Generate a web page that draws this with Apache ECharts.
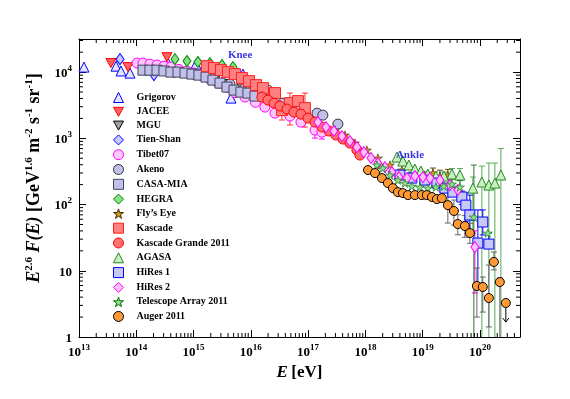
<!DOCTYPE html>
<html><head><meta charset="utf-8">
<script src="https://cdn.jsdelivr.net/npm/echarts@6/dist/echarts.min.js"></script>
<style>html,body{margin:0;padding:0;background:#fff}#c{width:570px;height:399px}</style>
</head><body><div id="c"></div>
<script>
// ---------- data: [E (eV), E^2.6 F(E)] ----------
const grigorov = [[1.22e13,11900],[4.43e13,12300],[5.41e13,10400],[7.77e13,9660],[3.57e14,13700],[1.1e15,13200],[4.5e15,4050],[7.28e15,9330]];
const jacee = [[3.61e13,13700],[7.16e13,11900],[3.43e14,16800]];
const mgu = [[1.65e15,8410],[2.36e15,7570],[3.98e15,6590],[7.0e15,5730],[1.23e16,4660],[2.15e16,3780]];
const tienShan = [[5.2e13,15700],[2.04e14,9010],[1.02e15,9330],[3.13e15,6820]];
const tibet07 = [[1.03e14,13700],[1.31e14,13700],[1.73e14,13200],[2.3e14,12800],[3.04e14,12300],[4.0e14,11900],[5.56e14,11000],[7.67e14,10400],[1.02e15,9660],[1.42e15,8800],[1.93e15,7800],[2.7e15,6800],[3.83e15,5900],[5.28e15,4900],[7.9e15,4200],[1.2e16,3500],[1.76e16,2960],[2.64e16,2400],[4.81e16,2170],[7.49e16,1760],[1.32e17,1330],[1.74e17,1240]];
const akeno = [[1.02e15,9330],[2.0e15,8100],[4.32e15,6590],[7.89e15,5730],[1.44e16,4500],[1.99e16,5350],[3.63e16,3400],[7.19e16,2670],[1.43e17,2400],[1.81e17,2240],[3.31e17,1640]];
const casaMia = [[1.31e14,10700],[1.73e14,10700],[2.3e14,10700],[3.04e14,10400],[4.03e14,10000],[5.35e14,10000],[7.08e14,9660],[9.38e14,9330],[1.24e15,9010],[1.65e15,8410],[2.18e15,7570],[2.89e15,6820],[3.83e15,5940],[5.08e15,5350],[6.71e15,4990],[8.9e15,4820],[1.18e16,4340]];
const hegra = [[4.73e14,15700],[7.67e14,14700],[1.19e15,14200],[1.93e15,13700],[3.13e15,12800],[4.87e15,11900]];
const flysEye = [[2.94e17,1330],[4.39e17,1120],[6.56e17,848],[1.06e18,665],[1.65e18,504],[2.68e18,395],[4.34e18,332],[6.74e18,299],[1.09e19,279],[1.51e19,299],[2e19,269],[2.75e19,279]];
const kascade = [[1.71e15,12300],[2.27e15,11500],[3.01e15,10700],[3.98e15,10000],[5.28e15,9330],[7.0e15,8120],[9.27e15,7310],[1.23e16,6360],[1.63e16,5730],[2.64e16,4820],[3.49e16,2670],[4.81e16,3400],[6.64e16,3650],[8.79e16,2860]];
const kascadeGrande = [[1.56e16,4200],[1.99e16,3780],[2.53e16,3400],[3.22e16,3070],[4.27e16,2770],[5.65e16,2490],[7.49e16,2320],[9.93e16,2020],[1.32e17,1760],[1.74e17,1480],[2.31e17,1290],[3.06e17,1120],[4.05e17,975],[5.36e17,848],[7.11e17,665],[8.02e17,559]];
const agasa = [[3.55e18,521],[4.51e18,454],[5.74e18,395],[7.31e18,344],[9.31e18,321],[1.23e19,289],[1.70e19,269],[2.34e19,269],[3.24e19,289],[4.46e19,279],[7.52e19,177],[1.08e20,219],[1.43e20,197],[1.82e20,211],[2.32e20,279]];
const hires1 = [[4.0e18,279],[6.48e18,251],[1.09e19,234],[1.77e19,211],[2.44e19,177],[3.37e19,154],[4.83e19,130],[5.67e19,98],[6.66e19,69.5],[9.19e19,26.2],[1.12e20,54.5],[1.43e20,25.3]];
const hires2 = [[1.48e17,1760],[2.05e17,1480],[2.82e17,1290],[3.89e17,1080],[5.36e17,909],[7.11e17,738],[9.42e17,620],[1.25e18,504],[1.65e18,423],[2.19e18,368],[2.9e18,310],[3.85e18,260],[5.3e18,251],[7.31e18,269],[1.01e19,260],[1.34e19,251],[2e19,234],[2.98e19,197],[4.11e19,166],[8.15e19,22.8]];
const telescopeArray = [[1.59e18,395],[2.02e18,356],[2.68e18,279],[3.69e18,234],[4.89e18,211],[6.48e18,190],[8.94e18,184],[1.23e19,177],[1.7e19,184],[2.34e19,190],[3.24e19,204],[4.46e19,184],[7.82e19,64.8],[1.37e20,37.1]];
const auger = [[1.11e18,332],[1.47e18,299],[1.94e18,251],[2.47e18,211],[3.02e18,177],[3.69e18,154],[4.51e18,149],[5.52e18,139],[7.31e18,139],[9.69e18,139],[1.18e19,139],[1.45e19,130],[1.77e19,121],[2.16e19,125],[2.75e19,98],[3.51e19,80],[4.11e19,50.8],[5.45e19,47.4],[6.66e19,37.1],[8.83e19,5.89],[1.12e20,5.69],[1.43e20,3.88],[1.75e20,13.6],[2.22e20,6.76],[2.83e20,3.26]];

// error bars: [E, low, high]
const kascadeErr = [[3.49e16,1890,3400],[4.81e16,1590,4820],[8.79e16,1480,4820]];
const tibetErr = [[1.32e17,1010,1600],[1.74e17,975,1500]];
const flysErr = [[1.51e19,260,356],[2e19,230,330],[2.75e19,240,340]];
const agasaErr = [[2.34e19,230,310],[3.24e19,240,350],[4.46e19,230,350],[7.52e19,37,260],[1.08e20,1,381],[1.43e20,1,423],[1.82e20,1,423],[2.32e20,1,700]];
const hires1Err = [[4.83e19,100,160],[5.67e19,55,150],[6.66e19,41,139],[9.19e19,6.5,83],[1.12e20,34.7,83],[1.43e20,22,37]];
const hires2Err = [[8.15e19,4.61,40]];
const taErr = [[7.82e19,1,395],[4.46e19,150,230]];
const augerErr = [[2.75e19,52.6,166],[3.51e19,49,117],[4.11e19,35,70],[5.45e19,32,68],[6.66e19,26,52],[8.83e19,2.0,11],[1.12e20,2.38,8.05],[1.43e20,1.42,12.2],[1.75e20,10.3,19.2],[2.22e20,1,7.77]];
const augerLimit = [[2.83e20,3.26,1.68]];

// annotations: [E, value, text]
const notes = [[6.5e15,18070,'Knee'],[6.0e18,559,'Ankle']];

// axes
const X_MIN = 1e13, X_MAX = 5e20, Y_MIN = 1, Y_MAX = 31623;
const decadesX = [13,14,15,16,17,18,19,20];
const decadesY = [0,1,2,3,4];
const minorSteps = [2,3,4,5,6,7,8,9];

const xMinor = [];
decadesX.forEach(d => minorSteps.forEach(m => { const v = m*Math.pow(10,d); if (v < X_MAX) xMinor.push([v, Y_MIN]); }));
const yMinor = [];
decadesY.forEach(d => minorSteps.forEach(m => { const v = m*Math.pow(10,d); if (v < Y_MAX) yMinor.push([X_MIN, v]); }));

const SERIF = 'Liberation Serif';
const STAR = 'path://M50,0 L61,35 L98,35 L68,57 L79,91 L50,70 L21,91 L32,57 L2,35 L39,35 Z';
const TRI_DOWN = 'path://M0,0 L10,0 L5,9 Z';

function sc(name, data, symbol, size, fill, edge, bw) {
  return { type:'scatter', name, data, symbol, symbolSize:size, symbolKeepAspect:true,
    itemStyle:{ color:fill, borderColor:edge, borderWidth:bw || 1, opacity:1 }, z:3 };
}
function err(data, color) {
  return { type:'custom', silent:true, data, z:2,
    renderItem:(p, api) => {
      const x = api.value(0), lo = api.value(1), hi = api.value(2);
      const a = api.coord([x, lo]), b = api.coord([x, hi]);
      const st = { stroke:color, lineWidth:1 };
      const ch = [{ type:'line', shape:{x1:a[0],y1:a[1],x2:b[0],y2:b[1]}, style:st }];
      if (lo > 1) ch.push({ type:'line', shape:{x1:a[0]-3,y1:a[1],x2:a[0]+3,y2:a[1]}, style:st });
      ch.push({ type:'line', shape:{x1:b[0]-3,y1:b[1],x2:b[0]+3,y2:b[1]}, style:st });
      return { type:'group', children:ch };
    } };
}

function supLabel(v, isY) {
  const l = Math.log10(v), e = Math.round(l);
  if (Math.abs(l - e) > 1e-6) return '';
  if (isY && e === 0) return '{b|1}';
  if (isY && e === 1) return '{b|10}';
  return '{b|10}{s|' + e + '}';
}
const labelRich = {
  b:{ fontFamily:SERIF, fontWeight:'bold', fontSize:13, color:'#000', lineHeight:16, verticalAlign:'bottom' },
  s:{ fontFamily:SERIF, fontWeight:'bold', fontSize:9, color:'#000', lineHeight:9, verticalAlign:'top' }
};
const axisCommon = {
  type:'log', logBase:10,
  axisLine:{ show:true, lineStyle:{ color:'#000', width:1 } },
  axisTick:{ show:true, inside:true, length:7, lineStyle:{ color:'#000' } },
  splitLine:{ show:false }
};

const legendNames = ['Grigorov','JACEE','MGU','Tien-Shan','Tibet07','Akeno','CASA-MIA','HEGRA','Fly’s Eye','Kascade','Kascade Grande 2011','AGASA','HiRes 1','HiRes 2','Telescope Array 2011','Auger 2011'];

const series = [
  sc('Grigorov', grigorov, 'triangle', 10, '#e4e4ff', '#0000ff'),
  sc('JACEE', jacee, TRI_DOWN, 10, '#ff6060', '#ff0000'),
  sc('MGU', mgu, TRI_DOWN, 10, '#a0a0a0', '#000000'),
  sc('Tien-Shan', tienShan, 'diamond', [8,11], '#c8c8ff', '#0000ff'),
  sc('Tibet07', tibet07, 'circle', 10, '#ffc8ff', '#ff00ff'),
  sc('Akeno', akeno, 'circle', 10, '#c0c0ea', '#333333'),
  sc('CASA-MIA', casaMia, 'rect', 10, '#c0c0ea', '#44445a'),
  sc('HEGRA', hegra, 'diamond', [8,11], '#88e088', '#008800'),
  sc('Fly’s Eye', flysEye, STAR, 9, '#d49a18', '#3a2a00', 0.6),
  sc('Kascade', kascade, 'rect', 11, '#ff8080', '#ff2020'),
  sc('Kascade Grande 2011', kascadeGrande, 'circle', 10, '#ff7070', '#ff0000'),
  sc('AGASA', agasa, 'triangle', 10, '#c8f0c0', '#228822'),
  sc('HiRes 1', hires1, 'rect', 10, '#c8c8f8', '#0000ff'),
  sc('HiRes 2', hires2, 'diamond', [8,11], '#ffc0ff', '#ff00ff'),
  sc('Telescope Array 2011', telescopeArray, STAR, 9, '#90e090', '#006600', 0.6),
  sc('Auger 2011', auger, 'circle', 9, '#ff9933', '#000000'),
  err(kascadeErr, '#ff3030'), err(tibetErr, '#ff00ff'), err(flysErr, '#6a5000'),
  err(agasaErr, '#55aa55'), err(hires1Err, '#0000ff'), err(hires2Err, '#ff00ff'),
  err(taErr, '#2a7a2a'), err(augerErr, '#666666'),
  { type:'custom', silent:true, data:augerLimit, z:2,
    renderItem:(p, api) => {
      const x = api.value(0), a = api.coord([x, api.value(1)]), b = api.coord([x, api.value(2)]);
      const st = { stroke:'#000', lineWidth:1, fill:null };
      return { type:'group', children:[
        { type:'line', shape:{x1:a[0],y1:a[1],x2:b[0],y2:b[1]}, style:st },
        { type:'polyline', shape:{points:[[b[0]-3,b[1]-4],[b[0],b[1]],[b[0]+3,b[1]-4]]}, style:st } ] };
    } },
  { type:'custom', silent:true, data:xMinor, z:4,
    renderItem:(p, api) => {
      const v = api.value(0), b = api.coord([v, Y_MIN]), t = api.coord([v, Y_MAX]);
      const st = { stroke:'#000', lineWidth:1 };
      return { type:'group', children:[
        { type:'line', shape:{x1:b[0],y1:b[1],x2:b[0],y2:b[1]-4}, style:st },
        { type:'line', shape:{x1:t[0],y1:t[1],x2:t[0],y2:t[1]+4}, style:st } ] };
    } },
  { type:'custom', silent:true, data:yMinor, z:4,
    renderItem:(p, api) => {
      const v = api.value(1), l = api.coord([X_MIN, v]), r = api.coord([X_MAX, v]);
      const st = { stroke:'#000', lineWidth:1 };
      return { type:'group', children:[
        { type:'line', shape:{x1:l[0],y1:l[1],x2:l[0]+4,y2:l[1]}, style:st },
        { type:'line', shape:{x1:r[0],y1:r[1],x2:r[0]-4,y2:r[1]}, style:st } ] };
    } },
  { type:'scatter', silent:true, symbolSize:0, z:5,
    data: notes.map(n => ({ value:[n[0], n[1]], name:n[2] })),
    label:{ show:true, position:'inside', formatter:p => p.name,
      fontFamily:SERIF, fontWeight:'bold', fontSize:11, color:'#0000dd' } }
];

const chart = echarts.init(document.getElementById('c'), null, { renderer:'canvas' });
chart.setOption({
  animation:false,
  backgroundColor:'#fff',
  grid:{ left:79, right:50, top:39, bottom:62 },
  xAxis:[
    Object.assign({}, axisCommon, { min:X_MIN, max:X_MAX, position:'bottom',
      axisLabel:{ formatter:v => supLabel(v, false), rich:labelRich, margin:6, interval:0 },
      name:'{i|E} {n|[eV]}', nameLocation:'middle', nameGap:25,
      nameTextStyle:{ rich:{
        i:{ fontFamily:SERIF, fontStyle:'italic', fontWeight:'bold', fontSize:17, color:'#000' },
        n:{ fontFamily:SERIF, fontWeight:'bold', fontSize:17, color:'#000' } } } }),
    Object.assign({}, axisCommon, { min:X_MIN, max:X_MAX, position:'top', axisLabel:{ show:false } })
  ],
  yAxis:[
    Object.assign({}, axisCommon, { min:Y_MIN, max:Y_MAX, position:'left',
      axisLabel:{ formatter:v => supLabel(v, true), rich:labelRich, margin:7 },
      name:'{i|E}{s|2.6}{i| F(E)}{n| [GeV}{s|1.6}{n| m}{s|-2}{n| s}{s|-1}{n| sr}{s|-1}{n|]}',
      nameLocation:'middle', nameGap:29, nameRotate:90,
      nameTextStyle:{ padding:[0,0,0,20], rich:{
        i:{ fontFamily:SERIF, fontStyle:'italic', fontWeight:'bold', fontSize:18, color:'#000', lineHeight:20, verticalAlign:'bottom' },
        n:{ fontFamily:SERIF, fontWeight:'bold', fontSize:18, color:'#000', lineHeight:20, verticalAlign:'bottom' },
        s:{ fontFamily:SERIF, fontWeight:'bold', fontSize:11, color:'#000', lineHeight:11, verticalAlign:'top' } } } }),
    Object.assign({}, axisCommon, { min:Y_MIN, max:Y_MAX, position:'right', axisLabel:{ show:false } })
  ],
  legend:{
    orient:'vertical', left:113, top:92, height:300, padding:0,
    itemWidth:10, itemHeight:10, itemGap:3.8, itemStyle:{ borderWidth:1 },
    textStyle:{ fontFamily:SERIF, fontWeight:'bold', fontSize:10, color:'#000', lineHeight:10, padding:[0,0,0,8] },
    data:legendNames
  },
  series
});
</script></body></html>
